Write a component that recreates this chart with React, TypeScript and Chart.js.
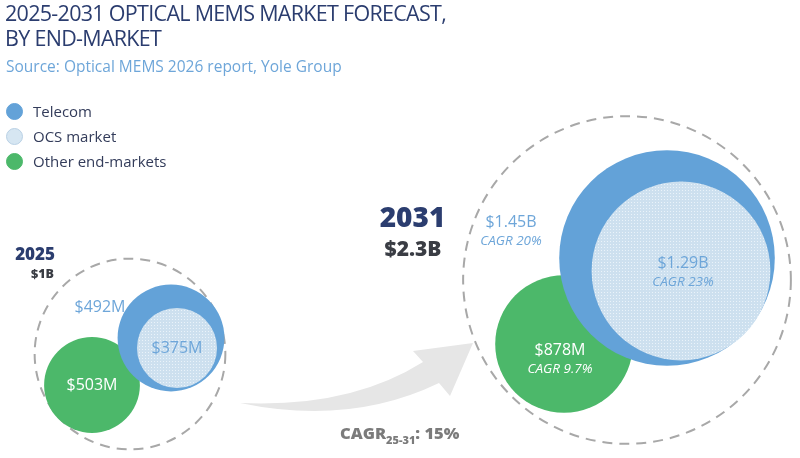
import { useEffect, useRef } from "react";
import { Chart, registerables } from "chart.js";

Chart.register(...registerables);

// Optical MEMS market by end-market, $M
const years = ["2025", "2031"];
const telecom = [492, 1450];
const ocsMarket = [375, 1290];
const otherMarkets = [503, 878];
const totalMarket = [1000, 2300];

// 2025-2031 compound annual growth rates, %
const cagrTelecom = 20;
const cagrOcs = 23;
const cagrOther = 9.7;
const cagrTotal = 15;

const W = 800;
const H = 458;
const FONT = '"Open Sans", "DejaVu Sans", sans-serif';
const NAVY = "#2b3d6f";
const DARK = "#3a3d44";
const BLUE = "#63a2d8";
const OCS_BASE = "#cde0ef";
const OCS_DOT = "#eaf3fa";
const GREEN = "#4cb86a";
const LABEL_BLUE = "#6ea6d9";
const GREY = "#7b7b7b";
const ARROW = "#e6e6e6";
const DASH = "#a8a8a8";

// bubble centres on the 800x458 layout grid, one per year
const centres = {
  telecom: [{ x: 171, y: 338 }, { x: 667, y: 258 }],
  ocs: [{ x: 177, y: 348 }, { x: 681, y: 271 }],
  other: [{ x: 92, y: 385 }, { x: 564, y: 344 }],
  total: [{ x: 130, y: 354 }, { x: 627, y: 280 }],
};

// bubble radius grows with market size
const sizeScale = { telecom: 0.95, ocs: 0.85, other: 0.84, total: 1.07 };
const radius = (v: number, k: number) => k * Math.pow(v, 0.65);

// label anchors (centre of the cap height)
const labelAt = {
  telecom: [{ x: 100, y: 306 }, { x: 511, y: 221 }],
  ocs: [{ x: 177, y: 347.5 }, { x: 683, y: 262 }],
  other: [{ x: 92, y: 384 }, { x: 560, y: 349 }],
};
const CAGR_GAP = 19.5;

const money = (v: number) => (v >= 1000 ? `$${+(v / 1000).toFixed(2)}B` : `$${v}M`);

function makeDotPattern(): CanvasPattern | string {
  const c = document.createElement("canvas");
  c.width = 3;
  c.height = 3;
  const g = c.getContext("2d");
  if (!g) return OCS_BASE;
  g.fillStyle = OCS_BASE;
  g.fillRect(0, 0, 3, 3);
  g.fillStyle = OCS_DOT;
  g.fillRect(1, 1, 1, 1);
  const p = g.createPattern(c, "repeat");
  return p || OCS_BASE;
}

function text(
  ctx: CanvasRenderingContext2D,
  s: string,
  x: number,
  capMid: number,
  size: number,
  color: string,
  opts: { weight?: number; italic?: boolean; align?: CanvasTextAlign } = {}
) {
  ctx.font = `${opts.italic ? "italic " : ""}${opts.weight || 400} ${size}px ${FONT}`;
  ctx.fillStyle = color;
  ctx.textAlign = opts.align || "center";
  ctx.textBaseline = "alphabetic";
  ctx.fillText(s, x, capMid + size * 0.357);
}

const decorations = {
  id: "memsDecor",
  beforeDatasetsDraw(chart: any) {
    const ctx: CanvasRenderingContext2D = chart.ctx;
    const sx = chart.scales.x;
    const sy = chart.scales.y;
    ctx.save();

    // growth arrow from 2025 to 2031
    ctx.fillStyle = ARROW;
    ctx.beginPath();
    ctx.moveTo(240, 403);
    ctx.quadraticCurveTo(350, 408, 423, 362);
    ctx.lineTo(413, 351);
    ctx.lineTo(473, 343);
    ctx.lineTo(450, 396);
    ctx.lineTo(439, 383);
    ctx.quadraticCurveTo(350, 426, 240, 403);
    ctx.closePath();
    ctx.fill();

    // dashed outline sized by the total market of each year
    ctx.setLineDash([10, 7]);
    ctx.lineWidth = 2;
    ctx.strokeStyle = DASH;
    totalMarket.forEach((v, i) => {
      const c = centres.total[i];
      ctx.beginPath();
      ctx.arc(sx.getPixelForValue(c.x), sy.getPixelForValue(c.y), radius(v, sizeScale.total), 0, Math.PI * 2);
      ctx.stroke();
    });
    ctx.restore();
  },
  afterDatasetsDraw(chart: any) {
    const ctx: CanvasRenderingContext2D = chart.ctx;
    ctx.save();
    const series = [
      { key: "telecom", values: telecom, cagr: cagrTelecom, color: LABEL_BLUE },
      { key: "ocs", values: ocsMarket, cagr: cagrOcs, color: LABEL_BLUE },
      { key: "other", values: otherMarkets, cagr: cagrOther, color: "#ffffff" },
    ];
    series.forEach((s) => {
      s.values.forEach((v, i) => {
        const a = (labelAt as any)[s.key][i];
        text(ctx, money(v), a.x, a.y, 16, s.color);
        if (i === 1) text(ctx, `CAGR ${s.cagr}%`, a.x, a.y + CAGR_GAP, 13.5, s.color, { italic: true });
      });
    });

    // year headers with total market
    text(ctx, years[0], 55, 253.5, 17, NAVY, { weight: 800, align: "right" });
    text(ctx, money(totalMarket[0]), 54, 274, 12.5, DARK, { weight: 800, align: "right" });
    text(ctx, years[1], 412.5, 217, 28, NAVY, { weight: 800 });
    text(ctx, money(totalMarket[1]), 413, 249, 21, DARK, { weight: 800 });

    // overall growth rate
    ctx.font = `800 16.5px ${FONT}`;
    ctx.fillStyle = GREY;
    ctx.textAlign = "left";
    ctx.textBaseline = "alphabetic";
    let x = 340;
    ctx.fillText("CAGR", x, 439);
    x += ctx.measureText("CAGR").width;
    ctx.font = `800 11px ${FONT}`;
    ctx.fillText("25-31", x, 443.5);
    x += ctx.measureText("25-31").width;
    ctx.font = `800 16.5px ${FONT}`;
    ctx.fillText(`: ${cagrTotal}%`, x, 439);
    ctx.restore();
  },
};

const legendItems = [
  { label: "Telecom", fill: BLUE, border: BLUE },
  { label: "OCS market", fill: "#d6e6f2", border: "#b9d0e4" },
  { label: "Other end-markets", fill: GREEN, border: GREEN },
];

export default function App() {
  const ref = useRef<HTMLCanvasElement | null>(null);

  useEffect(() => {
    if (!ref.current) return;
    const pts = (vals: number[], key: "telecom" | "ocs" | "other") =>
      vals.map((v, i) => ({ x: centres[key][i].x, y: centres[key][i].y, r: radius(v, sizeScale[key]) }));

    const chart = new Chart(ref.current, {
      type: "bubble",
      data: {
        datasets: [
          { label: "Telecom", data: pts(telecom, "telecom"), backgroundColor: BLUE, borderWidth: 0, order: 1, clip: false },
          { label: "OCS market", data: pts(ocsMarket, "ocs"), backgroundColor: makeDotPattern() as any, borderWidth: 0, order: 0, clip: false },
          { label: "Other end-markets", data: pts(otherMarkets, "other"), backgroundColor: GREEN, borderWidth: 0, order: 2, clip: false },
        ] as any,
      },
      options: {
        responsive: false,
        animation: false,
        events: [],
        layout: { padding: 0, autoPadding: false },
        elements: { point: { hoverRadius: 0, hitRadius: 0 } },
        scales: {
          x: { type: "linear", min: 0, max: W, display: false },
          y: { type: "linear", min: 0, max: H, reverse: true, display: false },
        },
        plugins: { legend: { display: false }, tooltip: { enabled: false }, title: { display: false } },
      } as any,
      plugins: [decorations],
    });
    return () => chart.destroy();
  }, []);

  return (
    <div style={{ position: "fixed", left: 0, top: 0, width: W, height: H, background: "#fff", fontFamily: FONT }}>
      <canvas ref={ref} width={W} height={H} style={{ position: "absolute", left: 0, top: 0 }} />
      <div style={{ position: "absolute", left: 5, top: 0, color: NAVY, fontSize: 21.5, letterSpacing: "-0.7px", lineHeight: "25px", fontWeight: 500, whiteSpace: "nowrap" }}>
        <div>2025-2031 OPTICAL MEMS MARKET FORECAST,</div>
        <div>BY END-MARKET</div>
      </div>
      <div style={{ position: "absolute", left: 6, top: 59, color: LABEL_BLUE, fontSize: 15.5, lineHeight: "15px", fontWeight: 500, whiteSpace: "nowrap" }}>
        Source: Optical MEMS 2026 report, Yole Group
      </div>
      {legendItems.map((it, i) => (
        <div key={it.label} style={{ position: "absolute", left: 6, top: 102 + i * 25, height: 18, display: "flex", alignItems: "center", whiteSpace: "nowrap" }}>
          <span style={{ width: 17, height: 17, borderRadius: "50%", background: it.fill, border: `1px solid ${it.border}`, boxSizing: "border-box", display: "inline-block" }} />
          <span style={{ marginLeft: 10, fontSize: 15, color: "#333c5a", lineHeight: "18px" }}>{it.label}</span>
        </div>
      ))}
    </div>
  );
}
